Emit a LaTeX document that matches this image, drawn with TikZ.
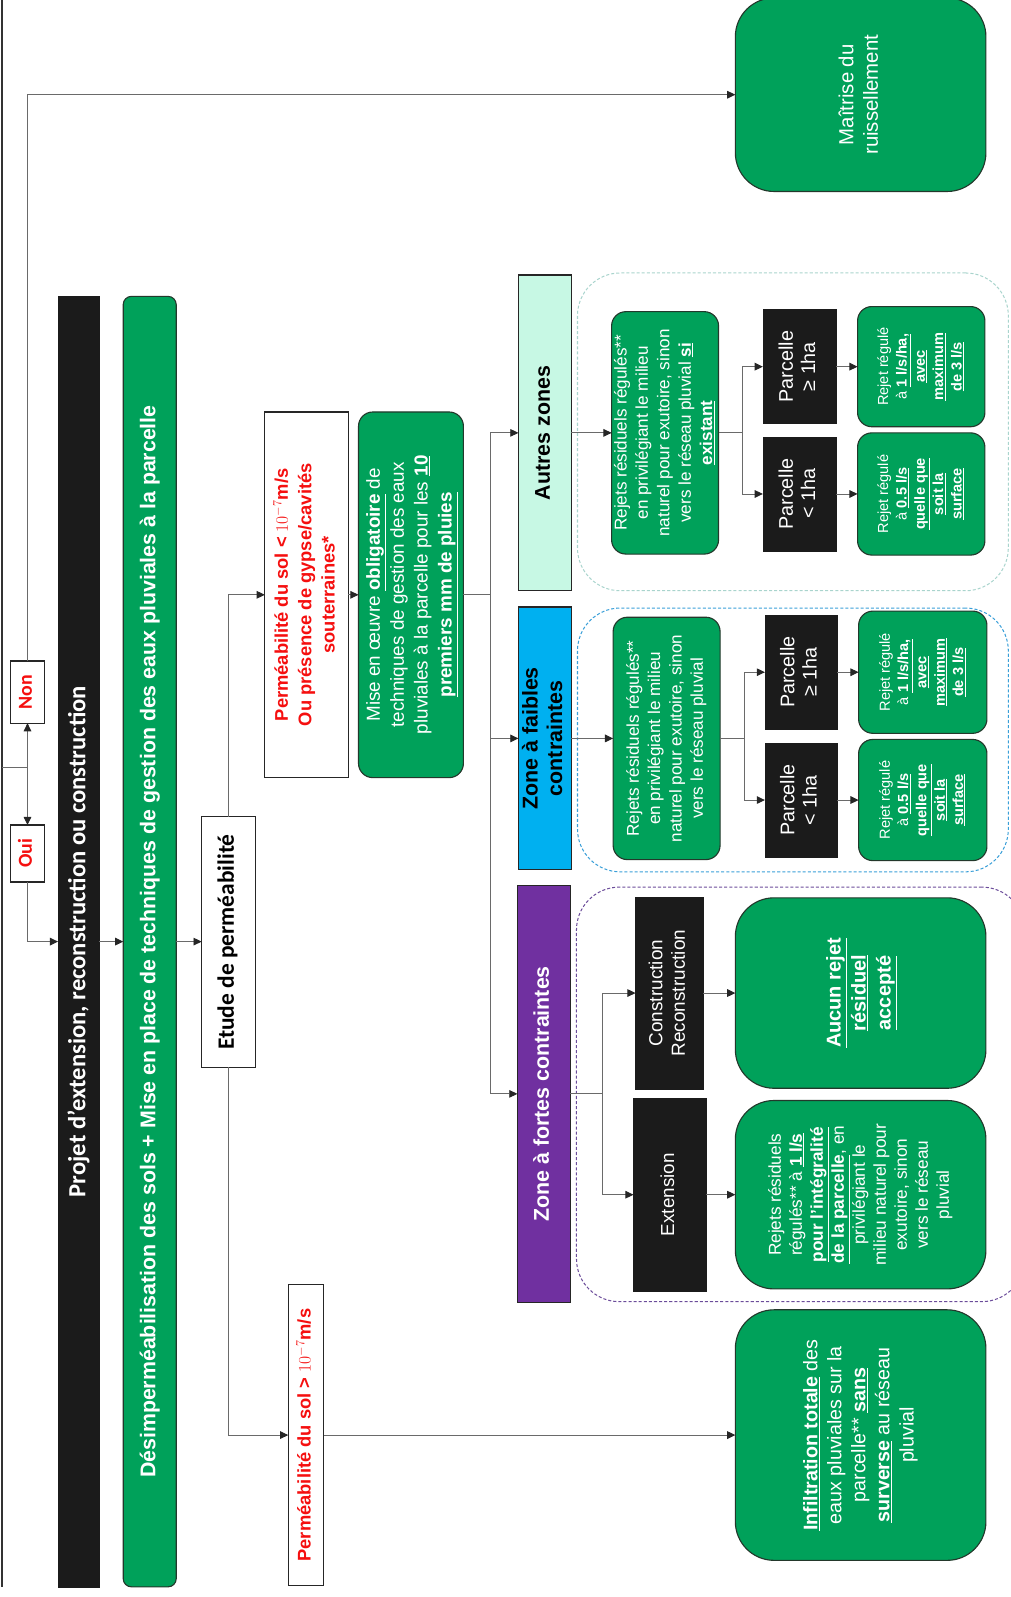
\documentclass[tikz,border=0pt]{standalone}
\usepackage{fontspec}
\setmainfont{Liberation Sans}
\newfontfamily\carl{Carlito}
\usepackage{graphicx}
\usetikzlibrary{arrows.meta}
\definecolor{gr}{HTML}{00A15A}
\definecolor{grd}{HTML}{23382B}
\definecolor{blk}{HTML}{1B1B1B}
\definecolor{mint}{HTML}{C7F8E4}
\definecolor{cyanz}{HTML}{00B0F0}
\definecolor{purp}{HTML}{7030A0}
\definecolor{redt}{HTML}{F50F0F}
\definecolor{dA}{HTML}{A9D4CD}
\definecolor{dF}{HTML}{3A9FD8}
\definecolor{dS}{HTML}{6B4C9A}
\definecolor{lin}{HTML}{6A6A6A}
\newcommand{\rt}[1]{\rotatebox{90}{\begin{tabular}{@{}c@{}}#1\end{tabular}}}
\newcommand{\ubf}[1]{\textbf{\underline{#1}}}
\newcommand{\fsz}[2]{\fontsize{#1}{#2}\selectfont}
\tikzset{
  box/.style={draw, inner sep=0pt, outer sep=0pt, align=center},
  gbox/.style={box, fill=gr, draw=grd, line width=1.1pt, rounded corners=14pt, text=white},
  bgbox/.style={gbox, rounded corners=38pt},
  kbox/.style={box, fill=blk, draw=blk, text=white},
  wbox/.style={box, fill=white, draw=black!85, line width=1.1pt},
  dbox/.style={draw, dashed, dash pattern=on 3pt off 2pt, line width=1pt, rounded corners=42pt, inner sep=0pt, outer sep=0pt},
  conn/.style={draw=lin, line width=0.9pt},
  arr/.style={conn, -{Triangle[length=8pt,width=7.5pt,color=black!85]}},
}
\begin{document}
\begin{tikzpicture}[x=1pt,y=-1pt]
\useasboundingbox (0,0) rectangle (992,1568);

% dashed containers
\node[dbox, draw=dA, minimum width=423, minimum height=312] (contA) at (778.5,424) {};
\node[dbox, draw=dF, minimum width=423, minimum height=259] (contF) at (778.5,726.5) {};
\node[dbox, draw=dS, minimum width=440, minimum height=407] (contS) at (786,1074.5) {};

% left column
\node[bgbox, minimum width=246, minimum height=190] (maitrise) at (845,93)
  {\fsz{20}{24}\rt{Maîtrise du\\ruissellement}};
\node[kbox, minimum width=40, minimum height=1267] (projet) at (77,924.5)
  {\rotatebox{90}{\resizebox{502pt}{!}{\carl\bfseries Projet d’extension, reconstruction ou construction}}};
\node[gbox, rounded corners=8pt, minimum width=52, minimum height=1267] (desimp) at (147,924.5)
  {\rotatebox{90}{\resizebox{1053pt}{!}{\bfseries Désimperméabilisation des sols + Mise en place de techniques de gestion des eaux pluviales à la parcelle}}};
\node[wbox, minimum width=34, minimum height=61] (non) at (27,679.5)
  {\color{redt}\carl\bfseries\fsz{19.5}{22}\rt{Non}};
\node[wbox, minimum width=34, minimum height=56] (oui) at (27,838)
  {\color{redt}\carl\bfseries\fsz{19.5}{22}\rt{Oui}};
\node[wbox, minimum width=53, minimum height=246] (etude) at (224.5,925)
  {\carl\bfseries\fsz{23}{26}\rt{Etude de perméabilité}};
\node[wbox, minimum width=82, minimum height=359] (permlt) at (301,584)
  {\color{redt}\bfseries\fsz{18}{23}\rt{Perméabilité du sol < $10^{-7}$m/s\\Ou présence de gypse/cavités\\souterraines*}};
\node[gbox, minimum width=103, minimum height=359] (mise) at (403.5,584)
  {\fsz{18.5}{23.5}\rt{Mise en œuvre \ubf{obligatoire} de\\techniques de gestion des eaux\\pluviales à la parcelle pour les \ubf{10}\\\ubf{premiers mm de pluies}}};
\node[wbox, minimum width=35, minimum height=296] (permgt) at (300.5,1409)
  {\color{redt}\bfseries\fsz{18}{23}\rt{Perméabilité du sol > $10^{-7}$m/s}};
\node[bgbox, minimum width=246, minimum height=246] (infil) at (845,1409)
  {\fsz{19.3}{23.6}\rt{\ubf{Infiltration totale} des\\eaux pluviales sur la\\parcelle** \ubf{sans}\\\ubf{surverse} au réseau\\pluvial}};

% zone headers
\node[box, fill=mint, draw=black!85, line width=1.1pt, minimum width=52, minimum height=310] (autres) at (535,425)
  {\bfseries\fsz{21}{24}\rt{Autres zones}};
\node[box, fill=cyanz, draw=black!85, line width=1.1pt, minimum width=52, minimum height=258] (faibles) at (535,725)
  {\bfseries\fsz{21}{24}\rt{Zone à faibles\\contraintes}};
\node[box, fill=purp, draw=black!85, line width=1.1pt, minimum width=52, minimum height=409, text=white] (fortes) at (534,1074)
  {\bfseries\fsz{21}{24}\rt{Zone à fortes contraintes}};

% autres zones
\node[gbox, minimum width=104, minimum height=238] (rejA) at (653,425)
  {\fsz{16.8}{21}\rt{Rejets résiduels régulés**\\en privilégiant le milieu\\naturel pour exutoire, sinon\\vers le réseau pluvial \ubf{si}\\\ubf{existant}}};
\node[kbox, minimum width=72, minimum height=112] (pAge) at (785,360)
  {\fsz{19.4}{22}\rt{Parcelle\\≥ 1ha}};
\node[kbox, minimum width=72, minimum height=112] (pAlt) at (785,485)
  {\fsz{19.4}{22}\rt{Parcelle\\< 1ha}};
\node[gbox, minimum width=125, minimum height=118] (gAge) at (904.5,360)
  {\fsz{14.3}{18}\rt{Rejet régulé\\à \ubf{1 l/s/ha,}\\\ubf{avec}\\\ubf{maximum}\\\ubf{de 3 l/s}}};
\node[gbox, minimum width=125, minimum height=120] (gAlt) at (904.5,485)
  {\fsz{14.3}{18}\rt{Rejet régulé\\à \ubf{0.5 l/s}\\\ubf{quelle que}\\\ubf{soit la}\\\ubf{surface}}};

% faibles
\node[gbox, minimum width=105, minimum height=238] (rejF) at (654.5,725)
  {\fsz{16.8}{21}\rt{Rejets résiduels régulés**\\en privilégiant le milieu\\naturel pour exutoire, sinon\\vers le réseau pluvial}};
\node[kbox, minimum width=71, minimum height=112] (pFge) at (786.5,660)
  {\fsz{19.4}{22}\rt{Parcelle\\≥ 1ha}};
\node[kbox, minimum width=71, minimum height=112] (pFlt) at (786.5,785.5)
  {\fsz{19.4}{22}\rt{Parcelle\\< 1ha}};
\node[gbox, minimum width=126, minimum height=120] (gFge) at (906,660)
  {\fsz{14.3}{18}\rt{Rejet régulé\\à \ubf{1 l/s/ha,}\\\ubf{avec}\\\ubf{maximum}\\\ubf{de 3 l/s}}};
\node[gbox, minimum width=126, minimum height=119] (gFlt) at (906,785.5)
  {\fsz{14.3}{18}\rt{Rejet régulé\\à \ubf{0.5 l/s}\\\ubf{quelle que}\\\ubf{soit la}\\\ubf{surface}}};

% fortes
\node[kbox, minimum width=66, minimum height=188] (cons) at (657,975)
  {\fsz{18.6}{22}\rt{Construction\\Reconstruction}};
\node[kbox, minimum width=71, minimum height=190] (ext) at (657.5,1173)
  {\fsz{18.5}{22}\rt{Extension}};
\node[bgbox, minimum width=246, minimum height=187] (aucun) at (845,975)
  {\bfseries\fsz{19.6}{24.5}\rt{\underline{Aucun rejet}\\\underline{résiduel}\\\underline{accepté}}};
\node[bgbox, minimum width=246, minimum height=185] (gext) at (845,1173)
  {\fsz{16.9}{20.6}\rt{Rejets résiduels\\régulés** à \ubf{1 l/s}\\\ubf{pour l’intégralité}\\\ubf{de la parcelle}, en\\privilégiant le\\milieu naturel pour\\exutoire, sinon\\vers le réseau\\pluvial}};

% connectors
\coordinate (lt) at (2,0);
\coordinate (lb) at (2,1558);
\coordinate (jl) at (2,754);
\coordinate (j0) at (27,754);
\draw[conn, draw=black!80, line width=1.6pt] (lt) -- (lb);
\draw[conn] (jl) -- (j0);
\draw[arr] (j0) -- (non.south);
\draw[arr] (j0) -- (oui.north);
\draw[arr] (non.north) |- (maitrise.west);
\draw[arr] (oui.south) |- (projet.west);
\draw[arr] (projet.east) -- (desimp.west);
\draw[arr] (desimp.east) -- (etude.west |- desimp.east);
\draw[arr] (etude.north) |- (permlt.west);
\draw[arr] (etude.south) |- (permgt.west);
\draw[arr] (permlt.east) -- (mise.west);
\draw[arr] (permgt.east) -- (infil.west);
\coordinate (sp) at (482,584);
\draw[conn] (mise.east) -- (sp);
\draw[arr] (sp) |- (autres.west);
\draw[arr] (sp) |- (faibles.west);
\draw[arr] (sp) |- (fortes.west);
% autres
\coordinate (bA) at (729,425);
\draw[arr] (autres.east) -- (rejA.west);
\draw[conn] (rejA.east) -- (bA);
\draw[arr] (bA) |- (pAge.west);
\draw[arr] (bA) |- (pAlt.west);
\draw[arr] (pAge.east) -- (gAge.west);
\draw[arr] (pAlt.east) -- (gAlt.west);
% faibles
\coordinate (bF) at (731,725);
\draw[arr] (faibles.east) -- (rejF.west);
\draw[conn] (rejF.east) -- (bF);
\draw[arr] (bF) |- (pFge.west);
\draw[arr] (bF) |- (pFlt.west);
\draw[arr] (pFge.east) -- (gFge.west);
\draw[arr] (pFlt.east) -- (gFlt.west);
% fortes
\coordinate (bS) at (592,1074);
\draw[conn] (fortes.east) -- (bS);
\draw[arr] (bS) |- (cons.west);
\draw[arr] (bS) |- (ext.west);
\draw[arr] (cons.east) -- (aucun.west);
\draw[arr] (ext.east) -- (gext.west);
\end{tikzpicture}
\end{document}
